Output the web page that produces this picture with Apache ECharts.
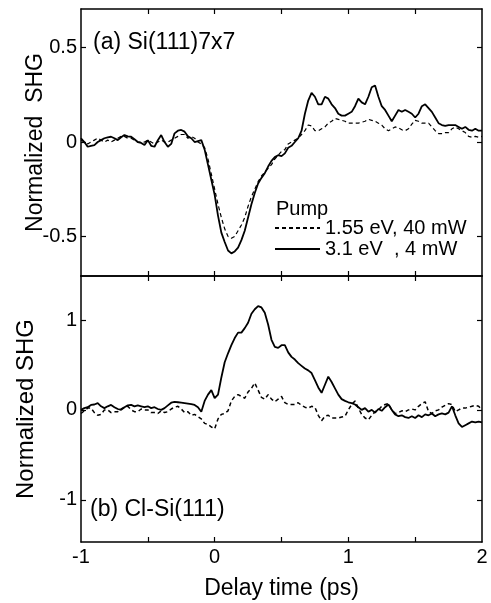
<!DOCTYPE html>
<html>
<head>
<meta charset="utf-8">
<script src="https://cdn.jsdelivr.net/npm/echarts@6/dist/echarts.min.js"></script>
<style>
html,body{margin:0;padding:0;background:#fff;}
#chart{width:491px;height:603px;}
</style>
</head>
<body>
<div id="chart"></div>
<script>
const delayTime = [-1,-0.975,-0.95,-0.925,-0.9,-0.875,-0.85,-0.825,-0.8,-0.775,
-0.75,-0.725,-0.7,-0.675,-0.65,-0.625,-0.6,-0.575,-0.55,-0.525,
-0.5,-0.475,-0.45,-0.425,-0.4,-0.375,-0.35,-0.325,-0.3,-0.275,
-0.25,-0.225,-0.2,-0.175,-0.15,-0.125,-0.1,-0.075,-0.05,-0.025,
0,0.025,0.05,0.075,0.1,0.125,0.15,0.175,0.2,0.225,
0.25,0.275,0.3,0.325,0.35,0.375,0.4,0.425,0.45,0.475,
0.5,0.525,0.55,0.575,0.6,0.625,0.65,0.675,0.7,0.725,
0.75,0.775,0.8,0.825,0.85,0.875,0.9,0.925,0.95,0.975,
1,1.025,1.05,1.075,1.1,1.125,1.15,1.175,1.2,1.225,
1.25,1.275,1.3,1.325,1.35,1.375,1.4,1.425,1.45,1.475,
1.5,1.525,1.55,1.575,1.6,1.625,1.65,1.675,1.7,1.725,
1.75,1.775,1.8,1.825,1.85,1.875,1.9,1.925,1.95,1.975,
2];

// (a) Si(111)7x7
const si7x7_155eV = [0.01,0.0,-0.01,0.0,0.01,0.02,0.01,0.0,0.01,0.0,
0.01,0.02,0.03,0.03,0.02,0.02,0.01,0.0,0.0,0.0,
0.01,0.0,-0.01,0.0,0.01,0.0,0.0,0.01,0.02,0.03,
0.04,0.04,0.02,0.03,0.02,0.0,-0.01,-0.03,-0.09,-0.17,
-0.25,-0.33,-0.4,-0.46,-0.5,-0.51,-0.5,-0.47,-0.44,-0.4,
-0.34,-0.29,-0.25,-0.21,-0.18,-0.16,-0.14,-0.12,-0.09,-0.07,
-0.05,-0.04,-0.01,0.0,0.01,0.02,0.04,0.06,0.09,0.085,
0.06,0.06,0.07,0.08,0.1,0.11,0.125,0.12,0.115,0.11,
0.1,0.1,0.1,0.1,0.105,0.11,0.12,0.115,0.11,0.1,
0.09,0.07,0.06,0.07,0.08,0.075,0.065,0.06,0.07,0.095,
0.115,0.11,0.1,0.1,0.1,0.08,0.06,0.045,0.045,0.05,
0.05,0.07,0.08,0.07,0.06,0.05,0.03,0.025,0.03,0.025,
0.03];
const si7x7_31eV = [0.02,0.0,-0.025,-0.02,-0.016,0.0,0.01,0.02,0.025,0.028,
0.02,0.01,0.025,0.037,0.03,0.028,0.015,0.0,-0.005,-0.016,
0.01,-0.02,-0.025,0.01,0.037,0.0,-0.025,-0.01,0.046,0.06,
0.064,0.055,0.03,0.02,0.0,0.005,0.01,-0.04,-0.12,-0.2,
-0.28,-0.39,-0.48,-0.53,-0.575,-0.59,-0.58,-0.56,-0.52,-0.47,
-0.4,-0.33,-0.27,-0.22,-0.19,-0.165,-0.13,-0.1,-0.08,-0.07,
-0.075,-0.06,-0.03,-0.02,0.0,0.02,0.06,0.15,0.22,0.26,
0.24,0.2,0.2,0.24,0.23,0.2,0.18,0.15,0.14,0.14,
0.15,0.16,0.19,0.23,0.21,0.2,0.24,0.29,0.3,0.24,
0.19,0.17,0.14,0.11,0.14,0.17,0.16,0.17,0.16,0.15,
0.13,0.15,0.19,0.2,0.18,0.16,0.13,0.1,0.09,0.085,
0.09,0.09,0.09,0.08,0.07,0.08,0.065,0.06,0.07,0.06,
0.06];

// (b) Cl-Si(111)
const clsi_155eV = [-0.04,-0.01,0.02,0.02,-0.03,-0.06,-0.05,0.0,0.0,-0.03,
-0.02,-0.02,0.01,0.03,0.04,0.0,-0.02,-0.02,0.01,0.0,
0.0,-0.03,-0.03,-0.04,-0.01,-0.03,-0.02,0.01,0.03,0.04,
0.01,-0.03,-0.02,-0.06,-0.05,-0.075,-0.1,-0.15,-0.16,-0.19,
-0.21,-0.1,-0.05,-0.04,-0.01,0.1,0.15,0.17,0.15,0.13,
0.2,0.24,0.3,0.22,0.14,0.12,0.17,0.12,0.09,0.12,
0.15,0.08,0.06,0.06,0.06,0.08,0.05,0.03,0.02,0.04,
0.03,-0.06,-0.12,-0.07,-0.06,-0.09,-0.09,-0.09,-0.08,-0.07,
0.0,0.06,0.1,0.02,-0.05,-0.09,-0.11,-0.06,-0.02,0.0,
0.04,0.06,0.07,0.0,-0.04,-0.03,-0.01,-0.02,0.0,0.01,
0.0,0.04,0.07,0.09,-0.02,-0.04,-0.01,0.0,0.03,0.05,
0.07,0.06,-0.02,0.0,0.02,0.02,0.03,0.04,0.05,0.04,
0.0];
const clsi_31eV = [0.0,0.02,0.03,0.055,0.06,0.075,0.04,0.02,0.04,0.055,
0.03,0.01,0.0,0.03,0.05,0.055,0.04,0.05,0.04,0.03,
0.04,0.02,0.03,0.01,0.0,0.02,0.05,0.08,0.09,0.085,
0.08,0.075,0.07,0.065,0.055,0.03,-0.02,0.1,0.17,0.22,
0.13,0.17,0.36,0.53,0.63,0.72,0.8,0.86,0.86,0.91,
0.97,1.07,1.12,1.155,1.14,1.08,0.95,0.78,0.7,0.69,
0.72,0.72,0.64,0.59,0.56,0.52,0.49,0.46,0.44,0.41,
0.33,0.25,0.19,0.28,0.37,0.31,0.24,0.17,0.12,0.1,
0.085,0.075,0.06,0.03,0.0,0.02,-0.02,0.0,-0.03,0.01,
-0.01,0.03,0.06,0.0,-0.05,-0.07,-0.06,-0.08,-0.09,-0.07,
-0.09,-0.06,-0.08,-0.05,-0.06,-0.04,-0.07,-0.05,-0.04,-0.05,
-0.03,0.04,-0.06,-0.15,-0.19,-0.17,-0.15,-0.13,-0.14,-0.13,
-0.14];

const xTickValues = [-0.5, 0, 0.5, 1, 1.5];
const xLabelValues = [-1, 0, 1, 2];
const topYTickValues = [-0.5, 0, 0.5];
const botYTickValues = [-1, 0, 1];
const seriesNames = ['1.55 eV, 40 mW', '3.1 eV  , 4 mW'];

const FONT = '"Liberation Sans", Arial, Helvetica, sans-serif';
const BLACK = '#000';

function pairs(arr) { return delayTime.map((t, i) => [t, arr[i]]); }

function fmt(v) { return String(v); }

function xAxisCfg(grid, pos, withLabels) {
  return {
    type: 'value', gridIndex: grid, position: pos, min: -1, max: 2,
    axisLine: { show: true, onZero: false, lineStyle: { color: BLACK, width: 1.5 } },
    axisTick: { show: true, inside: true, length: 5, customValues: xTickValues, lineStyle: { color: BLACK, width: 1.2 } },
    axisLabel: withLabels ? { show: true, customValues: xLabelValues, formatter: fmt, fontSize: 20, fontFamily: FONT, color: BLACK, margin: 5 } : { show: false },
    splitLine: { show: false }
  };
}

function yAxisCfg(grid, pos, min, max, ticks, withLabels, name, nameGap, nameSize) {
  const cfg = {
    type: 'value', gridIndex: grid, position: pos, min: min, max: max,
    axisLine: { show: true, onZero: false, lineStyle: { color: BLACK, width: 1.5 } },
    axisTick: { show: true, inside: true, length: 5, customValues: ticks, lineStyle: { color: BLACK, width: 1.2 } },
    axisLabel: withLabels ? { show: true, customValues: ticks, formatter: fmt, fontSize: 20, fontFamily: FONT, color: BLACK, margin: 4 } : { show: false },
    splitLine: { show: false }
  };
  if (name) {
    cfg.name = name;
    cfg.nameLocation = 'middle';
    cfg.nameGap = nameGap;
    cfg.nameMoveOverlap = false;
    cfg.nameTextStyle = { fontSize: nameSize, fontFamily: FONT, color: BLACK };
  }
  return cfg;
}

const chart = echarts.init(document.getElementById('chart'), null, { renderer: 'canvas' });

const xBottom = xAxisCfg(1, 'bottom', true);
xBottom.name = 'Delay time (ps)';
xBottom.nameLocation = 'middle';
xBottom.nameGap = 35;
xBottom.nameMoveOverlap = false;
xBottom.nameTextStyle = { fontSize: 23, fontFamily: FONT, color: BLACK };

const option = {
  animation: false,
  backgroundColor: '#fff',
  textStyle: { fontFamily: FONT, color: BLACK },
  title: [
    { text: '(a) Si(111)7x7', left: 93, top: 31, padding: 0, textStyle: { fontSize: 23, fontWeight: 'normal', fontFamily: FONT, color: BLACK } },
    { text: '(b) Cl-Si(111)', left: 90, top: 498, padding: 0, textStyle: { fontSize: 23, fontWeight: 'normal', fontFamily: FONT, color: BLACK } },
    { text: 'Pump', left: 276, top: 199, padding: 0, textStyle: { fontSize: 20, fontWeight: 'normal', fontFamily: FONT, color: BLACK } }
  ],
  legend: {
    data: seriesNames,
    orient: 'vertical',
    left: 274, top: 218,
    padding: 0,
    itemWidth: 45, itemHeight: 14, itemGap: 1,
    selectedMode: false,
    itemStyle: { opacity: 0, borderWidth: 0 },
    textStyle: { fontSize: 20, fontFamily: FONT, color: BLACK, lineHeight: 20 }
  },
  grid: [
    { left: 81, right: 9, top: 9, height: 267 },
    { left: 81, right: 9, top: 276, height: 266 }
  ],
  xAxis: [
    xAxisCfg(0, 'bottom', false),
    xAxisCfg(0, 'top', false),
    xBottom,
    xAxisCfg(1, 'top', false)
  ],
  yAxis: [
    yAxisCfg(0, 'left', -0.71, 0.705, topYTickValues, true, 'Normalized  SHG', 34, 23),
    yAxisCfg(0, 'right', -0.71, 0.705, topYTickValues, false),
    yAxisCfg(1, 'left', -1.47, 1.49, botYTickValues, true, 'Normalized SHG', 43, 24),
    yAxisCfg(1, 'right', -1.47, 1.49, botYTickValues, false)
  ],
  series: [
    { name: seriesNames[0], type: 'line', xAxisIndex: 0, yAxisIndex: 0, data: pairs(si7x7_155eV), symbol: 'none', lineStyle: { color: BLACK, width: 1.2, type: [4, 3] }, itemStyle: { color: BLACK } },
    { name: seriesNames[1], type: 'line', xAxisIndex: 0, yAxisIndex: 0, data: pairs(si7x7_31eV), symbol: 'none', lineStyle: { color: BLACK, width: 1.8 }, itemStyle: { color: BLACK } },
    { name: seriesNames[0], type: 'line', xAxisIndex: 2, yAxisIndex: 2, data: pairs(clsi_155eV), symbol: 'none', lineStyle: { color: BLACK, width: 1.5, type: [4, 3] }, itemStyle: { color: BLACK } },
    { name: seriesNames[1], type: 'line', xAxisIndex: 2, yAxisIndex: 2, data: pairs(clsi_31eV), symbol: 'none', lineStyle: { color: BLACK, width: 1.8 }, itemStyle: { color: BLACK } }
  ]
};
chart.setOption(option);
</script>
</body>
</html>
